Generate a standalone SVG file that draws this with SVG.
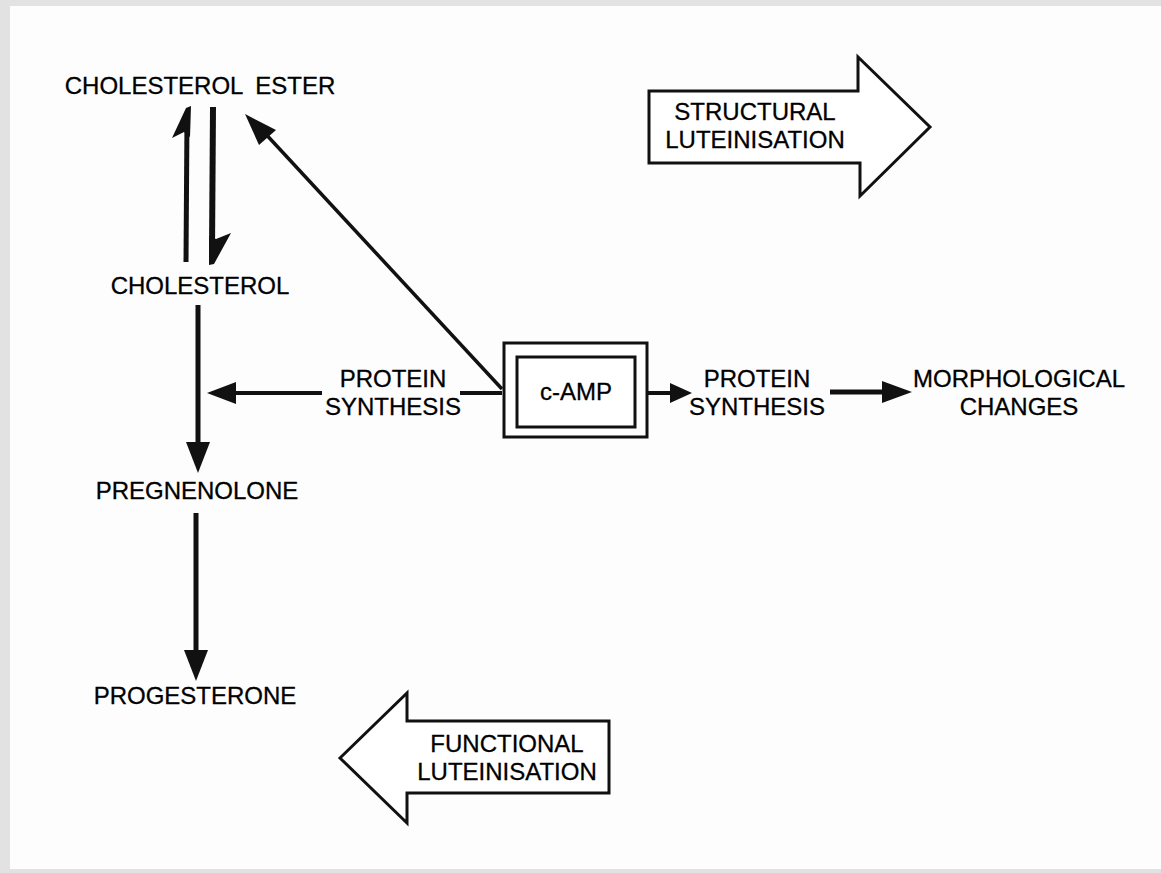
<svg xmlns="http://www.w3.org/2000/svg" width="1161" height="873" viewBox="0 0 1161 873">
<style>
  text { font-family: "Liberation Sans", Arial, sans-serif; font-size: 24px; fill: #000; text-anchor: middle; stroke: #000; stroke-width: 0.3; }
  .ln { stroke: #111; fill: none; }
  .ah { fill: #111; stroke: none; }
  .blk { fill: #fff; stroke: #111; stroke-width: 3; stroke-linejoin: miter; }
  .box { fill: #fff; stroke: #111; stroke-width: 3; }
</style>
<rect x="0" y="0" width="1161" height="873" fill="#e2e2e2"/>
<rect x="10" y="6" width="1151" height="863" fill="#fdfdfd"/>

<g id="cholesterol-ester"><text x="200" y="94" word-spacing="6">CHOLESTEROL ESTER</text></g>
<g id="cholesterol"><text x="200" y="294">CHOLESTEROL</text></g>
<g id="pregnenolone"><text x="197" y="499">PREGNENOLONE</text></g>
<g id="progesterone"><text x="195" y="704">PROGESTERONE</text></g>
<g id="protein-synthesis-left"><text x="393" y="387">PROTEIN</text><text x="393" y="415">SYNTHESIS</text></g>
<g id="camp">
  <rect class="box" x="504" y="343" width="143" height="94"/>
  <rect class="box" x="517" y="357" width="118" height="70"/>
  <text x="576" y="400">c-AMP</text>
</g>
<g id="protein-synthesis-right"><text x="757" y="387">PROTEIN</text><text x="757" y="415">SYNTHESIS</text></g>
<g id="morphological-changes"><text x="1019" y="387">MORPHOLOGICAL</text><text x="1019" y="415">CHANGES</text></g>
<g id="structural-luteinisation">
  <polygon class="blk" points="649,91 858,91 858,57 930,127 860,196 860,163 649,163"/>
  <text x="755" y="120">STRUCTURAL</text>
  <text x="755" y="148">LUTEINISATION</text>
</g>
<g id="functional-luteinisation">
  <polygon class="blk" points="340,758 407,693 407,721 609,721 609,793 407,793 407,823"/>
  <text x="507" y="752">FUNCTIONAL</text>
  <text x="507" y="780">LUTEINISATION</text>
</g>

<g id="connectors">
  <!-- cholesterol -> cholesterol ester (harpoon up) -->
  <line class="ln" x1="186" y1="262" x2="187" y2="118" stroke-width="5"/>
  <polygon class="ah" points="186,108 191,106 190,137 184,132 172,138"/>
  <!-- cholesterol ester -> cholesterol (harpoon down) -->
  <line class="ln" x1="213" y1="107" x2="212" y2="250" stroke-width="6"/>
  <polygon class="ah" points="214,264 209,265 209,236 216,239 231,233"/>
  <!-- cholesterol -> pregnenolone -->
  <line class="ln" x1="198" y1="305" x2="198" y2="448" stroke-width="5"/>
  <polygon class="ah" points="186,442 210,442 198,473"/>
  <!-- pregnenolone -> progesterone -->
  <line class="ln" x1="196" y1="513" x2="196" y2="655" stroke-width="5"/>
  <polygon class="ah" points="184,650 208,650 196,681"/>
  <!-- protein synthesis -> cholesterol line -->
  <line class="ln" x1="322" y1="393" x2="230" y2="393" stroke-width="4"/>
  <polygon class="ah" points="207,393 236,382 236,404"/>
  <line class="ln" x1="460" y1="393" x2="502" y2="393" stroke-width="4"/>
  <!-- c-AMP -> cholesterol ester diagonal -->
  <line class="ln" x1="502" y1="389" x2="262" y2="130" stroke-width="3.5"/>
  <polygon class="ah" points="245,114 276,130 259,145"/>
  <!-- c-AMP -> protein synthesis right -->
  <line class="ln" x1="648" y1="393" x2="675" y2="393" stroke-width="4"/>
  <polygon class="ah" points="692,393 670,383 670,403"/>
  <!-- protein synthesis -> morphological changes -->
  <line class="ln" x1="830" y1="392" x2="885" y2="392" stroke-width="5"/>
  <polygon class="ah" points="912,392 882,381 882,403"/>
</g>
</svg>
